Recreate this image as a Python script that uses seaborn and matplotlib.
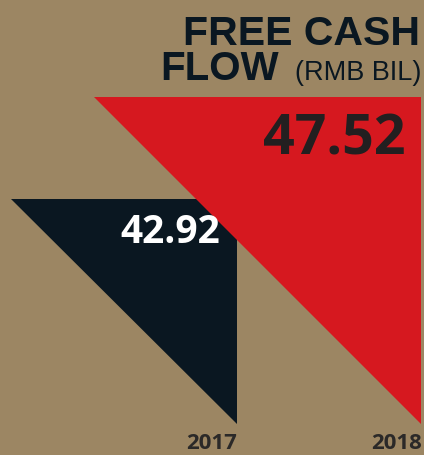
import matplotlib
matplotlib.use("Agg")
import matplotlib.pyplot as plt
import seaborn as sns

years = ["2017", "2018"]
values = [42.92, 47.52]
value_labels = ["42.92", "47.52"]
title_main = "FREE CASH"
title_line2 = "FLOW"
title_unit = "(RMB BIL)"

BG = "#9C8663"
COLORS = ["#0A1721", "#D6181F"]
VALUE_TEXT_COLORS = ["#FFFFFF", "#231F20"]
DARK = "#0A1721"

sns.set_theme(style="white")
plt.rcParams["font.family"] = ["Open Sans", "DejaVu Sans"]

W, H = 424, 456
fig = plt.figure(figsize=(W / 100, H / 100), dpi=100, facecolor=BG)

# layout: baseline of triangles at pixel row 425, scale in px per unit
base = 32.77
scale = 22.17
bottom_px = 425
ax = fig.add_axes([0, (H - bottom_px) / H, 1, bottom_px / H])
ax.set_facecolor(BG)
ax.set_xlim(0, W / scale)
ax.set_ylim(base, base + bottom_px / scale)
ax.axis("off")

right_edges_px = [236.5, 421]
value_sizes = [28, 40]
value_drop_px = [43, 57]
for yr, v, lab, c, tc, rpx, fs, dp in zip(years, values, value_labels, COLORS,
                                           VALUE_TEXT_COLORS, right_edges_px,
                                           value_sizes, value_drop_px):
    xr = rpx / scale
    h = v - base
    ax.fill([xr - h, xr, xr], [v, v, base], color=c, lw=0)
    # value label inside the triangle, right aligned
    ax.text(xr - 16 / scale, v - dp / scale, lab,
            ha="right", va="baseline", fontsize=fs, fontweight="bold",
            color=tc, family=["Open Sans", "DejaVu Sans"])
    # year label under the triangle
    fig.text((rpx + 0.5) / W, (H - 449) / H, yr, ha="right", va="baseline",
             fontsize=16, fontweight="bold", color="#2B2928",
             family=["Open Sans", "DejaVu Sans"])

sns.despine(ax=ax, left=True, bottom=True)

fig.text(420 / W, (H - 45) / H, title_main, ha="right", va="baseline",
         fontsize=29.5, fontweight="bold", color=DARK,
         family=["Liberation Sans", "DejaVu Sans"])
fig.text(279 / W, (H - 80) / H, title_line2, ha="right", va="baseline",
         fontsize=29, fontweight="bold", color=DARK,
         family=["Liberation Sans", "DejaVu Sans"])
fig.text(421 / W, (H - 80) / H, title_unit, ha="right", va="baseline",
         fontsize=19.5, color=DARK,
         family=["Liberation Sans", "DejaVu Sans"])

fig.savefig("out.png", dpi=100, facecolor=BG)
